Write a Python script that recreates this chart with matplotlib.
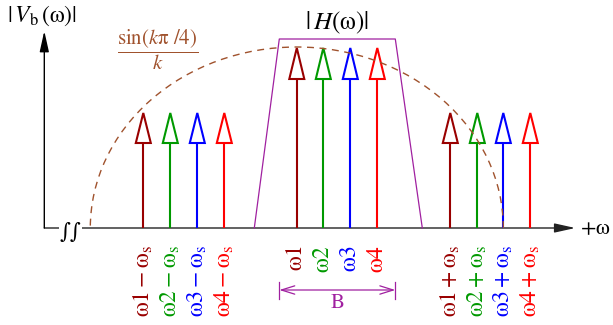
import matplotlib
matplotlib.use('Agg')
import matplotlib.pyplot as plt
from matplotlib.patches import Polygon, Arc

plt.rcParams['mathtext.fontset'] = 'stix'
plt.rcParams['mathtext.default'] = 'rm'
plt.rcParams['font.family'] = ['STIXGeneral', 'DejaVu Serif']

# tone positions along the frequency axis (axis origin = 0) and heights
tone_colors = ['#990000', '#009900', '#0000ff', '#ff0000']
center_x = [252.5, 279, 306, 333]
center_h = [180, 180, 180, 180]
lower_x = [99, 126, 153, 180]
upper_x = [406, 433, 459, 486]
side_h = [115, 115, 115, 115]
center_labels = [r'$\omega1$', r'$\omega2$', r'$\omega3$', r'$\omega4$']
lower_labels = [r'$\omega1 - \omega_s$', r'$\omega2 - \omega_s$', r'$\omega3 - \omega_s$', r'$\omega4 - \omega_s$']
upper_labels = [r'$\omega1 + \omega_s$', r'$\omega2 + \omega_s$', r'$\omega3 + \omega_s$', r'$\omega4 + \omega_s$']

# filter |H(w)| trapezoid
filt_x = [210, 235, 351, 378]
filt_y = [0, 189, 189, 0]
band_edges = [235, 351]

# sin(k pi/4)/k envelope (drawn as half ellipse)
env_center = 252.5
env_width = 413
env_height = 181

axis_top = 197
axis_right = 531

brown = '#a0522d'
purple = '#a020a0'

fig = plt.figure(figsize=(6.13, 3.25), dpi=100)
ax = fig.add_axes([0, 0, 1, 1])
ax.set_xlim(-44.3, 568.7)
ax.set_ylim(-97, 228)
ax.axis('off')


def draw_tone(x, h, color, head_len=30, head_w=15):
    ax.plot([x, x], [0, h - head_len], color=color, lw=1.5, zorder=3,
            solid_capstyle='butt')
    tri = Polygon([(x - head_w / 2, h - head_len), (x, h), (x + head_w / 2, h - head_len)],
                  closed=True, facecolor='white', edgecolor=color, lw=1.5, zorder=3)
    ax.add_patch(tri)


# axes
ax.annotate('', xy=(axis_right, 0), xytext=(0, 0),
            arrowprops=dict(arrowstyle='-|>,head_length=0.9,head_width=0.2',
                            color='#222222', lw=1.0, shrinkA=0, shrinkB=0,
                            mutation_scale=14), zorder=2)
ax.annotate('', xy=(0, axis_top), xytext=(0, 0),
            arrowprops=dict(arrowstyle='-|>,head_length=0.9,head_width=0.2',
                            color='black', lw=1.0, shrinkA=0, shrinkB=0,
                            mutation_scale=14), zorder=2)
ax.text(26, -4, '\u222b\u222b', fontsize=15, family='DejaVu Serif',
        ha='center', va='center',
        bbox=dict(facecolor='white', edgecolor='none', pad=0.5), zorder=4)
ax.text(536, -1, r'$+\omega$', fontsize=16, ha='left', va='center')
ax.text(-37, 212, r'$|\,\mathit{V}_{\rm b}\,(\omega)|$', fontsize=17, ha='left', va='center')

# filter
ax.plot(filt_x, filt_y, color=purple, lw=0.9, zorder=2)
ax.text(292, 205, r'$|\,\mathit{H}(\omega)|$', fontsize=18, ha='center', va='center')

# envelope
env = Arc((env_center, 0), env_width, 2 * env_height, theta1=0, theta2=180,
          edgecolor=brown, lw=1.0, linestyle=(0, (5, 4)), zorder=5)
ax.add_patch(env)
ax.text(113, 178, r'$\dfrac{\mathrm{sin}(\mathit{k}\pi\ /4)}{\mathit{k}}$', fontsize=15,
        color=brown, ha='center', va='center')

# tones and labels
for i in range(4):
    c = tone_colors[i]
    draw_tone(center_x[i], center_h[i], c, head_len=31, head_w=15)
    draw_tone(lower_x[i], side_h[i], c)
    draw_tone(upper_x[i], side_h[i], c)
    ax.text(center_x[i], -17, center_labels[i], color=c, fontsize=17,
            rotation=90, ha='center', va='top')
    ax.text(lower_x[i], -17, lower_labels[i], color=c, fontsize=17,
            rotation=90, ha='center', va='top')
    ax.text(upper_x[i], -17, upper_labels[i], color=c, fontsize=17,
            rotation=90, ha='center', va='top')

# bandwidth bracket
ax.annotate('', xy=(band_edges[1], -62), xytext=(band_edges[0], -62),
            arrowprops=dict(arrowstyle='<->,head_length=0.8,head_width=0.25',
                            color=purple, lw=0.9, shrinkA=0, shrinkB=0,
                            mutation_scale=12))
for e in band_edges:
    ax.plot([e, e], [-54, -71], color=purple, lw=0.9)
ax.text(sum(band_edges) / 2, -75, 'B', color=purple, fontsize=15,
        ha='center', va='center')

fig.savefig('out.png', dpi=100)
